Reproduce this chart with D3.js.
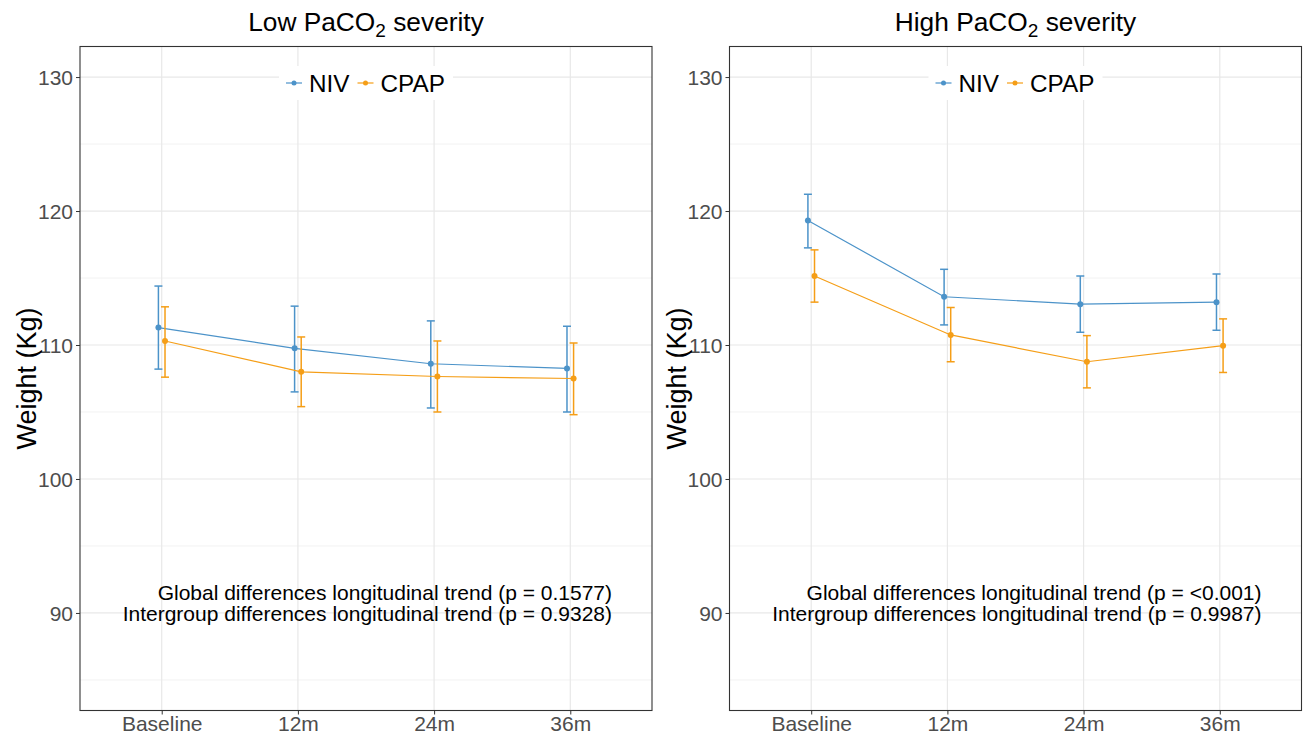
<!DOCTYPE html>
<html>
<head>
<meta charset="utf-8">
<script src="https://cdn.jsdelivr.net/npm/d3@7"></script>
<style>
body{margin:0;background:#fff;}
svg{font-family:"Liberation Sans",Arial,sans-serif;}
</style>
</head>
<body>
<script>
var svg_width=1307;
var svg_height=736;

var timepoints=["Baseline","12m","24m","36m"];
var groups=["NIV","CPAP"];
var yTicks=[90,100,110,120,130];
var yMinor=[85,95,105,115,125];

// low PaCO2 panel
var lowNIV=[111.3,109.75,108.6,108.25];
var lowNIVLo=[108.2,106.5,105.3,105.0];
var lowNIVHi=[114.4,112.9,111.8,111.4];
var lowCPAP=[110.3,108.0,107.65,107.5];
var lowCPAPLo=[107.6,105.4,105.0,104.8];
var lowCPAPHi=[112.85,110.6,110.3,110.15];

// high PaCO2 panel
var highNIV=[119.3,113.6,113.05,113.2];
var highNIVLo=[117.25,111.5,110.95,111.1];
var highNIVHi=[121.25,115.65,115.15,115.3];
var highCPAP=[115.15,110.75,108.75,109.95];
var highCPAPLo=[113.2,108.75,106.8,107.95];
var highCPAPHi=[117.1,112.8,110.7,111.95];

var lowNotes=["Global differences longitudinal trend (p = 0.1577)","Intergroup differences longitudinal trend (p = 0.9328)"];
var highNotes=["Global differences longitudinal trend (p = <0.001)","Intergroup differences longitudinal trend (p = 0.9987)"];

var colors={"NIV":"#4C93C9","CPAP":"#F59E17"};
var dodge={"NIV":-3.3,"CPAP":3.3};

var svg=d3.select("body")
    .append("svg")
    .attr("width",svg_width)
    .attr("height",svg_height);

function series(name,mean,lo,hi){
    return {name:name,values:mean.map(function(d,i){
        return {t:timepoints[i],v:d,lo:lo[i],hi:hi[i]};
    })};
}

function drawPanel(left,right,title,data,notes){
    var top=46.5, bottom=710.5;
    var x=d3.scalePoint().domain(timepoints).range([left,right]).padding(0.6);
    var y=d3.scaleLinear().domain([82.72,132.28]).range([bottom,top]);
    var g=svg.append("g");

    // grid
    g.selectAll(".minor").data(yMinor).enter().append("line")
        .attr("x1",left).attr("x2",right)
        .attr("y1",function(d){return y(d);}).attr("y2",function(d){return y(d);})
        .attr("stroke","#f2f2f2").attr("stroke-width",1);
    g.selectAll(".major").data(yTicks).enter().append("line")
        .attr("x1",left).attr("x2",right)
        .attr("y1",function(d){return y(d);}).attr("y2",function(d){return y(d);})
        .attr("stroke","#e8e8e8").attr("stroke-width",1.2);
    g.selectAll(".vgrid").data(timepoints).enter().append("line")
        .attr("x1",function(d){return x(d);}).attr("x2",function(d){return x(d);})
        .attr("y1",top).attr("y2",bottom)
        .attr("stroke","#e8e8e8").attr("stroke-width",1.2);

    // axes
    var yAxis=d3.axisLeft(y).tickValues(yTicks).tickSize(4).tickPadding(3);
    var ga=g.append("g").attr("transform","translate("+left+",0)").call(yAxis);
    ga.select(".domain").remove();
    ga.selectAll("line").attr("stroke","#333");
    ga.selectAll("text").attr("fill","#4d4d4d").style("font-size","21px")
        .attr("font-family","Liberation Sans, Arial, sans-serif").attr("dy","0.36em");

    var xAxis=d3.axisBottom(x).tickSize(4).tickPadding(2);
    var gx=g.append("g").attr("transform","translate(0,"+bottom+")").call(xAxis);
    gx.select(".domain").remove();
    gx.selectAll("line").attr("stroke","#333");
    gx.selectAll("text").attr("fill","#4d4d4d").style("font-size","21px")
        .attr("font-family","Liberation Sans, Arial, sans-serif");

    // series
    var line=d3.line()
        .x(function(d){return x(d.t);})
        .y(function(d){return y(d.v);});
    data.forEach(function(s){
        var c=colors[s.name];
        var sg=g.append("g").attr("transform","translate("+dodge[s.name]+",0)");
        sg.append("path").datum(s.values).attr("d",line)
            .attr("fill","none").attr("stroke",c).attr("stroke-width",1.2);
        var eb=sg.selectAll(".eb").data(s.values).enter().append("g");
        eb.append("line")
            .attr("x1",function(d){return x(d.t);}).attr("x2",function(d){return x(d.t);})
            .attr("y1",function(d){return y(d.lo);}).attr("y2",function(d){return y(d.hi);})
            .attr("stroke",c).attr("stroke-width",1.5);
        eb.append("line")
            .attr("x1",function(d){return x(d.t)-4;}).attr("x2",function(d){return x(d.t)+4;})
            .attr("y1",function(d){return y(d.lo);}).attr("y2",function(d){return y(d.lo);})
            .attr("stroke",c).attr("stroke-width",1.5);
        eb.append("line")
            .attr("x1",function(d){return x(d.t)-4;}).attr("x2",function(d){return x(d.t)+4;})
            .attr("y1",function(d){return y(d.hi);}).attr("y2",function(d){return y(d.hi);})
            .attr("stroke",c).attr("stroke-width",1.5);
        sg.selectAll("circle").data(s.values).enter().append("circle")
            .attr("cx",function(d){return x(d.t);})
            .attr("cy",function(d){return y(d.v);})
            .attr("r",3).attr("fill",c);
    });

    // notes
    var cx=(left+right)/2;
    g.selectAll(".note").data(notes).enter().append("text")
        .text(function(d){return d;})
        .attr("x",right-40)
        .attr("y",function(d,i){return 599.5+i*21.5;})
        .attr("text-anchor","end")
        .attr("fill","#000")
        .style("font-size","21px");

    // legend
    var lg=g.append("g");
    lg.append("rect").attr("x",cx-87).attr("y",66).attr("width",174).attr("height",34).attr("fill","#fff");
    var items=[{n:"NIV",kx:cx-80,tx:cx-57},{n:"CPAP",kx:cx-8.5,tx:cx+14.5}];
    items.forEach(function(it){
        lg.append("line").attr("x1",it.kx).attr("x2",it.kx+16).attr("y1",83).attr("y2",83)
            .attr("stroke",colors[it.n]).attr("stroke-width",1.2);
        lg.append("circle").attr("cx",it.kx+8).attr("cy",83).attr("r",2.5).attr("fill",colors[it.n]);
        lg.append("text").text(it.n).attr("x",it.tx).attr("y",91.5)
            .attr("fill","#000").style("font-size","24.3px");
    });

    // border
    g.append("rect").attr("x",left).attr("y",top).attr("width",right-left).attr("height",bottom-top)
        .attr("fill","none").attr("stroke","#333").attr("stroke-width",1.1);

    // title
    var t=g.append("text").attr("x",cx).attr("y",31).attr("text-anchor","middle")
        .attr("fill","#000").style("font-size","26.3px");
    t.append("tspan").text(title+" PaCO");
    t.append("tspan").text("2").style("font-size","19px").attr("dy",6);
    t.append("tspan").text(" severity").attr("dy",-6);

    // y title
    g.append("text").text("Weight (Kg)")
        .attr("transform","translate("+(left-44)+","+((top+bottom)/2)+") rotate(-90)")
        .attr("text-anchor","middle").attr("fill","#000").style("font-size","27px");
}

drawPanel(80,652,"Low",[series("NIV",lowNIV,lowNIVLo,lowNIVHi),series("CPAP",lowCPAP,lowCPAPLo,lowCPAPHi)],lowNotes);
drawPanel(729.5,1301.5,"High",[series("NIV",highNIV,highNIVLo,highNIVHi),series("CPAP",highCPAP,highCPAPLo,highCPAPHi)],highNotes);
</script>
</body>
</html>
